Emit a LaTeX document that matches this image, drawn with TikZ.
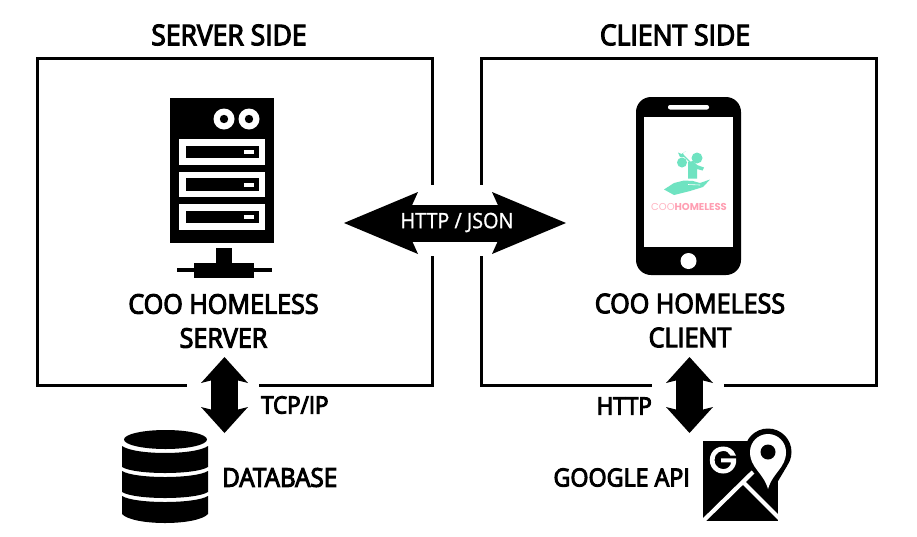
\documentclass[tikz,border=0pt]{standalone}
\usepackage{fontspec}
\setmainfont{Open Sans}[FakeBold=4,FakeStretch=0.93]
\newfontfamily\plainfont{Open Sans}[FakeStretch=0.93,FakeBold=1]
\newfontfamily\logofont{Poppins}
\newfontfamily\gfont{Poppins}[FakeBold=4]
\usetikzlibrary{arrows.meta}
\definecolor{mint}{HTML}{6FE3C1}
\definecolor{pinkB}{HTML}{FF9FB3}
\definecolor{pinkL}{HTML}{FFB5C2}
\tikzset{
  frame/.style={draw=black,line width=3pt,minimum width=395pt,minimum height=327pt,inner sep=0pt},
  lab/.style={inner sep=0pt,font=\fontsize{27}{34}\selectfont,align=center,text=black},
  titlelab/.style={inner sep=0pt,font=\fontsize{28.5}{34}\selectfont,text=black},
  smalllab/.style={inner sep=0pt,font=\fontsize{24}{30}\selectfont,text=black},
  wipeH/.style={draw=white,line width=71pt},
  wipeV/.style={draw=white,line width=72pt},
  bigarrow/.style={draw=black,line width=37pt,{Stealth[length=74pt,width=62pt,inset=14pt,line width=0pt]}-{Stealth[length=74pt,width=62pt,inset=14pt,line width=0pt]}},
  vertarrow/.style={draw=black,line width=27pt,{Stealth[length=26pt,width=47pt,inset=6pt,line width=0pt]}-{Stealth[length=26pt,width=47pt,inset=6pt,line width=0pt]}},
  blk/.style={fill=black,draw=none},
  wht/.style={fill=white,draw=none},
  mintf/.style={fill=mint,draw=none},
}
\begin{document}
\begin{tikzpicture}[x=1pt,y=-1pt]
\useasboundingbox (0,0) rectangle (917,536);
% frames
\node[frame] (server) at (235,221.5) {};
\node[frame] (client) at (679,221.5) {};
\node[titlelab] (servertitle) at (229,35) {SERVER SIDE};
\node[titlelab] (clienttitle) at (675,35) {CLIENT SIDE};
% gaps in the frames
\draw[wipeH] ([xshift=-4pt,yshift=1.5pt]server.east) -- ([xshift=4pt,yshift=1.5pt]client.west);
\coordinate (gapL) at (223,385);
\coordinate (gapR) at (688,385);
\draw[wipeV] ([yshift=-4pt]gapL) -- ([yshift=4pt]gapL);
\draw[wipeV] ([yshift=-4pt]gapR) -- ([yshift=4pt]gapR);
% connectors
\coordinate (httpL) at (344,223);
\coordinate (httpR) at (566,223);
\draw[bigarrow] (httpL) -- (httpR);
\node[inner sep=0pt,text=white,font=\plainfont\fontsize{21.3}{24}\selectfont] (httplab) at (457,222.5) {HTTP / JSON};
\coordinate (tcpT) at (224.5,357);
\coordinate (tcpB) at (224.5,433);
\draw[vertarrow] (tcpT) -- (tcpB);
\coordinate (apiT) at (689.5,357);
\coordinate (apiB) at (689.5,433);
\draw[vertarrow] (apiT) -- (apiB);
% server icon
\fill[blk] (170,98) rectangle (274,243);
\foreach \cx in {224,249}{
  \fill[wht] (\cx,119) circle[radius=10.5];
  \fill[blk] (\cx,119) circle[radius=4.2];
}
\foreach \ya in {139,171.5,204}{
  \fill[wht] (179,\ya) rectangle (265,\ya+25.5);
  \fill[blk] (186,\ya+6.8) rectangle (259,\ya+19);
  \fill[wht] (244,\ya+11) rectangle (254,\ya+15);
}
\fill[blk] (216,248) rectangle (232,264);
\fill[blk] (194,263) rectangle (254,278);
\fill[blk] (177,268) rectangle (272,272);
\node[lab] (serverlab) at (223.5,321) {COO HOMELESS\\SERVER};
% phone
\fill[blk,rounded corners=15pt] (636,97) rectangle (741,275);
\fill[wht] (644,117) rectangle (733,247);
\fill[wht,rounded corners=2pt] (668,105) rectangle (709,109.5);
\fill[wht] (688.5,261) circle[radius=8];
% logo
\fill[mintf] (697,158) circle[radius=5.5];
\fill[mintf] (688,162) -- (693,161) -- (697,165) -- (704,167.5) -- (702.5,170.5) -- (697,169) -- (697,178.5) -- (688,178.5) -- cycle;
\fill[mintf] (682,162.5) circle[radius=5];
\fill[mintf] (680,157) -- (684,157) -- (683,153) -- (686,151) -- (681.5,154) -- (678,152.5) -- cycle;
\draw[mint,line width=1.2pt] (682,154) -- (690,162);
\fill[mintf] (664,189.5) -- (674,183) -- (684,180.5) -- (693,181) -- (700,183) -- (710,179.5) -- (703,187) -- (690,191) -- (674,195) -- cycle;
\draw[white,line width=.6pt] (688,184.5) -- (700,185);
\node[inner sep=0pt,font=\logofont\fontsize{10}{12}\selectfont] (logotext) at (689,207) {\textcolor{pinkL}{COO}\textcolor{pinkB}{\bfseries HOMELESS}};
\node[lab] (clientlab) at (690,320.5) {COO HOMELESS\\CLIENT};
% side labels
\node[smalllab,anchor=west] (tcplab) at (261,405) {TCP/IP};
\node[smalllab,anchor=west,font=\fontsize{26}{30}\selectfont] (dblab) at (222,477.5) {DATABASE};
\node[smalllab,anchor=east] (httplab2) at (652,406) {HTTP};
\node[smalllab,anchor=east,font=\fontsize{25}{30}\selectfont] (apilab) at (690,477.5) {GOOGLE API};
% database
\fill[blk] (165.5,439.5) ellipse[x radius=41.5,y radius=9.5];
\fill[blk] (122,446) .. controls (135,455.3) and (195,455.3) .. (208,446) -- (208,467) .. controls (195,475) and (135,475) .. (122,467) -- cycle;
\fill[blk] (122,471) .. controls (135,479) and (195,479) .. (208,471) -- (208,492) .. controls (195,500) and (135,500) .. (122,492) -- cycle;
\fill[blk] (122,496) .. controls (135,504) and (195,504) .. (208,496) -- (208,514) .. controls (197,526) and (133,526) .. (122,514) -- cycle;
% google maps
\fill[blk] (703,441) rectangle (778,521);
\fill[blk] (768,452) circle[radius=23.5];
\fill[blk] (749,466) -- (768,498) -- (787,466) -- cycle;
\begin{scope}
\clip (703,441) rectangle (778,521);
\draw[white,line width=4.2pt] (699,525) -- (753,472);
\draw[white,line width=4.2pt] (743,482) -- (785,524);
\end{scope}
\fill[wht] (750,452) arc[start angle=180,end angle=360,radius=18] .. controls (786,468) and (773,472) .. (768,489) .. controls (763,472) and (750,468) .. (750,452) -- cycle;
\fill[blk] (768,452) circle[radius=7.5];
\node[inner sep=0pt,text=white,font=\gfont\fontsize{36}{38}\selectfont] (glogo) at (723,460) {G};
\end{tikzpicture}
\end{document}
